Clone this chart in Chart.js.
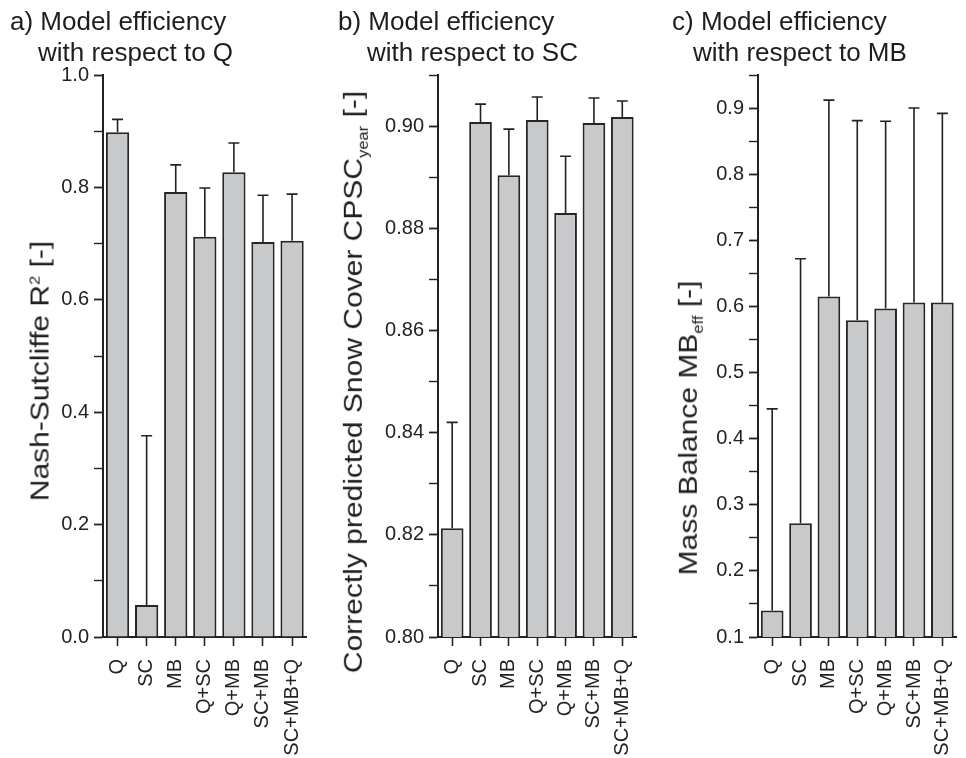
<!DOCTYPE html>
<html>
<head>
<meta charset="utf-8">
<script src="https://cdn.jsdelivr.net/npm/chart.js@4.4.1/dist/chart.umd.min.js"></script>
<style>
  html, body { margin: 0; padding: 0; background: #fff; overflow: hidden; }
  body { width: 966px; height: 758px; position: relative; font-family: "Liberation Sans", Arial, sans-serif; color: #1e1e1e; }
  canvas { position: absolute; top: 0; }
  .title { position: absolute; font-size: 26px; line-height: 31px; white-space: nowrap; }
  .title span { display: block; }
  .ytitle { position: absolute; font-size: 30px; white-space: nowrap; transform: translate(-50%, -50%) rotate(-90deg) scaleY(0.85); }
  .ytitle sub, .ytitle sup { font-size: 55%; }
</style>
</head>
<body>
<canvas id="chartA" width="330" height="758" style="left:0px"></canvas>
<canvas id="chartB" width="330" height="758" style="left:330px"></canvas>
<canvas id="chartC" width="340" height="758" style="left:640px"></canvas>

<div class="title" style="left:10px; top:6px;"><span>a) Model efficiency</span><span style="padding-left:28px">with respect to Q</span></div>
<div class="title" style="left:338px; top:6px;"><span>b) Model efficiency</span><span style="padding-left:29px">with respect to SC</span></div>
<div class="title" style="left:672px; top:6px;"><span>c) Model efficiency</span><span style="padding-left:21px">with respect to MB</span></div>

<div class="ytitle" style="left:40px; top:371px;">Nash-Sutcliffe R<sup>2</sup> [-]</div>
<div class="ytitle" style="left:355px; top:382px;">Correctly predicted Snow Cover CPSC<sub>year</sub> [-]</div>
<div class="ytitle" style="left:690px; top:428px;">Mass Balance MB<sub>eff</sub> [-]</div>

<script>
// calibration targets
const categories = ["Q", "SC", "MB", "Q+SC", "Q+MB", "SC+MB", "SC+MB+Q"];

// a) Nash-Sutcliffe R2
const nseValues = [0.898, 0.057, 0.792, 0.712, 0.827, 0.703, 0.705];
const nseErrTop = [0.921, 0.358, 0.840, 0.799, 0.879, 0.786, 0.788];

// b) CPSC year
const cpscValues = [0.8213, 0.9008, 0.8904, 0.9012, 0.8830, 0.9006, 0.9018];
const cpscErrTop = [0.8420, 0.9043, 0.8994, 0.9057, 0.8941, 0.9055, 0.9049];

// c) MB eff
const mbValues = [0.140, 0.272, 0.615, 0.579, 0.597, 0.606, 0.606];
const mbErrTop = [0.445, 0.672, 0.912, 0.881, 0.880, 0.900, 0.892];

const INK = "#222";

// draws the upper error bar of every bar
const errorBars = {
  id: "errorBars",
  afterDatasetsDraw(chart) {
    const ctx = chart.ctx;
    const yScale = chart.scales.y;
    chart.data.datasets.forEach((ds, di) => {
      const meta = chart.getDatasetMeta(di);
      meta.data.forEach((bar, i) => {
        const top = ds.errTop[i];
        if (top == null) return;
        const yErr = yScale.getPixelForValue(top);
        ctx.save();
        ctx.strokeStyle = INK;
        ctx.lineWidth = 1.6;
        ctx.beginPath();
        ctx.moveTo(bar.x, bar.y);
        ctx.lineTo(bar.x, yErr);
        ctx.moveTo(bar.x - 5.5, yErr);
        ctx.lineTo(bar.x + 5.5, yErr);
        ctx.stroke();
        ctx.restore();
      });
    });
  }
};

function makePanel(id, values, errTop, yMin, yMax, step, showLabel, fmt, yWidth, padRight) {
  return new Chart(document.getElementById(id), {
    type: "bar",
    data: {
      labels: categories,
      datasets: [{
        data: values,
        errTop: errTop,
        backgroundColor: "#c8c9cb",
        borderColor: "#262626",
        borderWidth: 2,
        categoryPercentage: 1.0,
        barPercentage: 0.8,
      }],
    },
    options: {
      responsive: false,
      animation: false,
      layout: { padding: { top: 75, right: padRight, bottom: 0, left: 0 } },
      plugins: { legend: { display: false }, tooltip: { enabled: false } },
      scales: {
        x: {
          grid: { display: true, drawOnChartArea: false, offset: false, tickLength: 9, tickColor: INK, tickWidth: 1.6 },
          border: { display: true, color: INK, width: 2 },
          ticks: {
            color: INK,
            font: { family: "Liberation Sans, Arial, sans-serif", size: 20 },
            minRotation: 90,
            maxRotation: 90,
            autoSkip: false,
            padding: 13,
          },
          afterFit: (scale) => { scale.height = 121; },
        },
        y: {
          min: yMin,
          max: yMax,
          grid: {
            display: true,
            drawOnChartArea: false,
            tickLength: 9,
            tickColor: INK,
            tickWidth: (c) => (showLabel(c.tick.value) ? 1.8 : 1.4),
          },
          border: { display: true, color: INK, width: 2 },
          ticks: {
            stepSize: step,
            color: INK,
            font: { family: "Liberation Sans, Arial, sans-serif", size: 20 },
            padding: 5,
            callback: (v) => (showLabel(v) ? fmt(v) : ""),
          },
          afterFit: (scale) => { scale.width = yWidth; },
        },
      },
    },
    plugins: [errorBars],
  });
}

makePanel("chartA", nseValues, nseErrTop, 0, 1.0, 0.1,
  (v) => Math.round(v * 10) % 2 === 0, (v) => v.toFixed(1), 103, 13);

makePanel("chartB", cpscValues, cpscErrTop, 0.80, 0.91, 0.01,
  (v) => Math.round(v * 100) % 2 === 0, (v) => v.toFixed(2), 108, 10);

makePanel("chartC", mbValues, mbErrTop, 0.1, 0.95, 0.05,
  (v) => Math.round(v * 100) % 10 === 0, (v) => v.toFixed(1), 118, 9);
</script>
</body>
</html>
